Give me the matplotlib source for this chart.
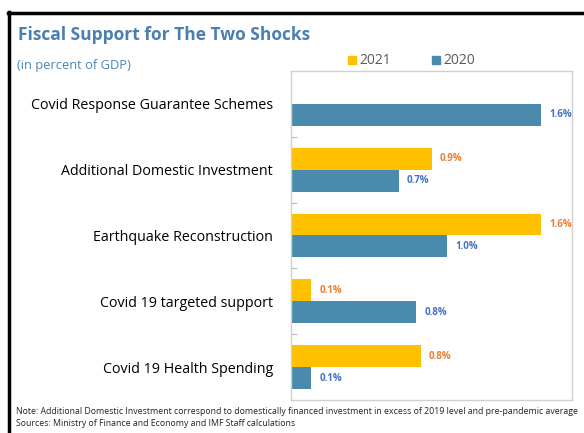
import numpy as np
import matplotlib
matplotlib.use("Agg")
import matplotlib.pyplot as plt
from matplotlib.lines import Line2D

plt.rcParams['font.family'] = ['Open Sans', 'DejaVu Sans']

categories = ["Covid Response Guarantee Schemes", "Additional Domestic Investment",
              "Earthquake Reconstruction", "Covid 19 targeted support",
              "Covid 19 Health Spending"]
vals_2021 = [0.0, 0.9, 1.6, 0.13, 0.83]
vals_2020 = [1.6, 0.69, 1.0, 0.8, 0.13]
labels_2021 = ["", "0.9%", "1.6%", "0.1%", "0.8%"]
labels_2020 = ["1.6%", "0.7%", "1.0%", "0.8%", "0.1%"]

c2021 = "#FFC000"
c2020 = "#4A8BAD"

fig = plt.figure(figsize=(5.84, 4.33), dpi=100)
ax = fig.add_axes([291 / 584, 1 - 400 / 433, 281 / 584, 329 / 433])

y = np.arange(len(categories))
h = 1 / 3
ax.barh(y - h / 2, vals_2021, height=h, color=c2021)
ax.barh(y + h / 2, vals_2020, height=h, color=c2020)

for i in range(len(categories)):
    if labels_2021[i]:
        ax.annotate(labels_2021[i], (vals_2021[i], y[i] - h / 2), xytext=(6, 0),
                    textcoords="offset points", va="center", ha="left",
                    fontsize=7, fontweight="bold", color="#ED7D31")
    ax.annotate(labels_2020[i], (vals_2020[i], y[i] + h / 2), xytext=(6, 0),
                textcoords="offset points", va="center", ha="left",
                fontsize=7, fontweight="bold", color="#4472C4")

ax.set_xlim(0, 1.8)
ax.set_ylim(len(categories) - 0.5, -0.5)
ax.set_xticks([])
ax.set_yticks(np.arange(len(categories) - 1) + 0.5)
ax.set_yticklabels([])
ax.tick_params(axis="y", which="major", direction="in", length=4, color="#bfbfbf")
ax.set_yticks(y, minor=True)
ax.set_yticklabels(categories, minor=True, fontsize=10.3)
ax.tick_params(axis="y", which="minor", length=0, pad=13)
for s in ax.spines.values():
    s.set_color("#d0d0d0")
    s.set_linewidth(1)

fig.text(18 / 584, 1 - 35 / 433, "Fiscal Support for The Two Shocks", fontsize=12.5,
         fontweight="bold", color="#4A7FB0", va="center", ha="left")
fig.text(17 / 584, 1 - 66 / 433, "(in percent of GDP)", fontsize=9.3,
         color="#4A85B8", va="center", ha="left")

# legend
fig.patches.append(plt.Rectangle((348 / 584, 1 - 64 / 433), 8 / 584, 8 / 433,
                                 transform=fig.transFigure, color=c2021))
fig.text(359 / 584, 1 - 60 / 433, "2021", fontsize=10, color="#595959", va="center")
fig.patches.append(plt.Rectangle((432 / 584, 1 - 64 / 433), 8 / 584, 8 / 433,
                                 transform=fig.transFigure, color=c2020))
fig.text(443 / 584, 1 - 60 / 433, "2020", fontsize=10, color="#595959", va="center")

fig.text(16 / 584, 1 - 412 / 433,
         "Note: Additional Domestic Investment correspond to domestically financed investment in excess of 2019 level and pre-pandemic average",
         fontsize=6.3, color="#222222", va="center")
fig.text(16 / 584, 1 - 424 / 433, "Sources: Ministry of Finance and Economy and IMF Staff calculations",
         fontsize=6.3, color="#222222", va="center")

# outer frame
fig.add_artist(Line2D([9 / 584, 9 / 584], [0, 1 - 12 / 433], color="black", lw=2.5,
                      transform=fig.transFigure))
fig.add_artist(Line2D([8 / 584, 1], [1 - 13 / 433, 1 - 13 / 433], color="black", lw=2.5,
                      transform=fig.transFigure))

fig.savefig("out.png", dpi=100)
